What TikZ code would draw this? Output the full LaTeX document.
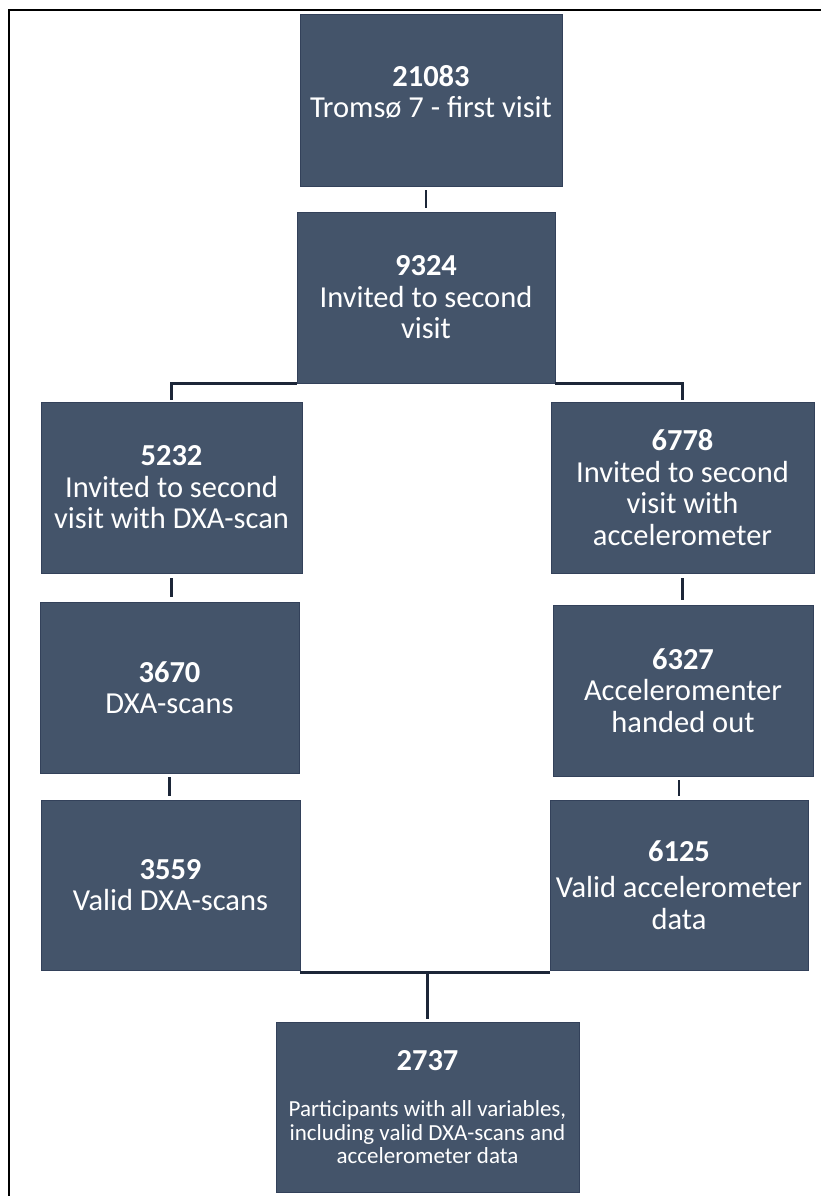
\documentclass[tikz,border=0pt]{standalone}
\usepackage{fontspec}
\setmainfont{Carlito}
\definecolor{boxfill}{HTML}{44546A}
\definecolor{boxedge}{HTML}{33415A}
\definecolor{connc}{HTML}{1C2638}
\begin{document}
\begin{tikzpicture}[x=1pt,y=-1pt,
  flowbox/.style={rectangle, fill=boxfill, draw=boxedge, line width=0.8pt,
    text=white, align=center, inner sep=2pt,
    font=\fontsize{30.5}{31.5}\selectfont},
  smalltext/.style={font=\fontsize{23}{23.5}\selectfont},
  conn/.style={draw=connc, line width=2.4pt},
  frameline/.style={draw=black, line width=2.8pt}]
\useasboundingbox (0,0) rectangle (820,1196);
\draw[frameline] (9,1200) -- (9,10) -- (824,10);

\node[flowbox, minimum width=262pt, minimum height=172pt] (b1) at (431,100)
  {\textbf{21083}\\Tromsø 7 - first visit\\[-14pt]};
\node[flowbox, minimum width=258pt, minimum height=171pt] (b2) at (426,297.5)
  {\textbf{9324}\\Invited to second\\visit};
\node[flowbox, minimum width=261pt, minimum height=171pt] (b3) at (171.5,487.5)
  {\textbf{5232}\\Invited to second\\visit with DXA-scan};
\node[flowbox, minimum width=263pt, minimum height=171pt] (b4) at (682.5,487.5)
  {\textbf{6778}\\Invited to second\\visit with\\accelerometer};
\node[flowbox, minimum width=259pt, minimum height=171pt] (b5) at (169.5,687.5)
  {\textbf{3670}\\DXA-scans};
\node[flowbox, minimum width=260pt, minimum height=171pt] (b6) at (683,690.5)
  {\textbf{6327}\\Acceleromenter\\handed out};
\node[flowbox, minimum width=259pt, minimum height=170pt] (b7) at (170.5,885)
  {\textbf{3559}\\Valid DXA-scans};
\node[flowbox, minimum width=258pt, minimum height=170pt] (b8) at (679,885)
  {\textbf{6125}\\[5pt]Valid accelerometer\\data};
\node[flowbox, smalltext, minimum width=303pt, minimum height=170pt] (b9) at (427.5,1107)
  {{\fontsize{30.5}{31.5}\selectfont\textbf{2737}}\\[23pt]Participants with all variables,\\including valid DXA-scans and\\accelerometer data};

\draw[conn, shorten <=4pt, shorten >=4pt] (b2.north |- b1.south) -- (b2.north);
\draw[conn, shorten >=2pt] (b2.south west) -| (b3.north);
\draw[conn, shorten >=2pt] (b2.south east) -| (b4.north);
\draw[conn, shorten <=5pt, shorten >=5pt] (b3.south) -- (b3.south |- b5.north);
\draw[conn, shorten <=5pt, shorten >=5pt] (b4.south) -- (b4.south |- b6.north);
\draw[conn, shorten <=4pt, shorten >=4pt] (b5.south) -- (b5.south |- b7.north);
\draw[conn, shorten <=4pt, shorten >=4pt] (b8.north |- b6.south) -- (b8.north);
\draw[conn] ([yshift=-2pt]b7.south east) -- ([yshift=-2pt]b8.south west);
\draw[conn, shorten <=2pt, shorten >=3pt] (b9.north |- b7.south) -- (b9.north);
\end{tikzpicture}
\end{document}
